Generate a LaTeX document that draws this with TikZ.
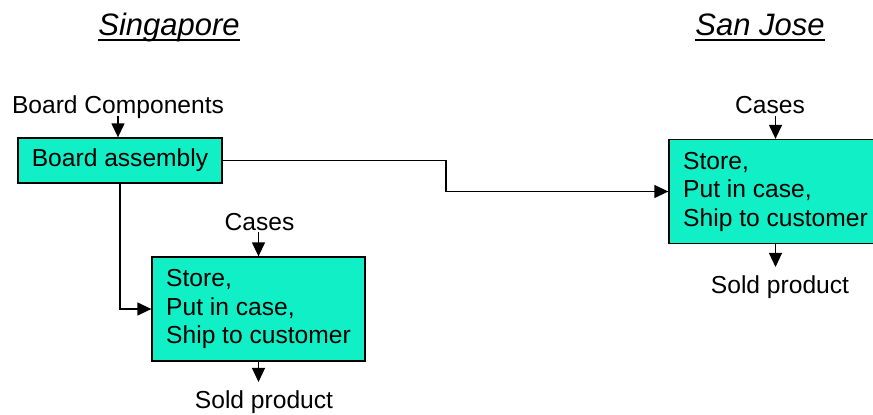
\documentclass[tikz,border=0pt]{standalone}
\usepackage{fontspec}
\setmainfont{Liberation Sans}
\definecolor{storegreen}{RGB}{17,239,199}
\usetikzlibrary{arrows.meta,calc}

\tikzset{
  lbl/.style={inner sep=0pt, font=\fontsize{24.6}{28.5}\selectfont},
  place/.style={inner sep=0pt, font=\fontsize{31}{36}\selectfont\itshape},
  stepbox/.style={draw, line width=1.3pt, fill=storegreen, font=\fontsize{24.6}{28.5}\selectfont},
  storebox/.style={stepbox, align=left, minimum width=213pt, minimum height=104pt},
  arr/.style={line width=1.3pt, -{Triangle[length=14pt,width=13pt]}}
}

\begin{document}
\begin{tikzpicture}[x=1pt, y=-1pt]
    \useasboundingbox (0,0) rectangle (873,415);
    \clip (0,0) rectangle (873,415);
    % site headings
    \node[place, anchor=base] (sg) at (169,35) {Singapore};
    \draw[line width=2pt] ([yshift=-5pt]sg.base west) -- ([yshift=-5pt]sg.base east);
    \node[place, anchor=base] (sj) at (760,35) {San Jose};
    \draw[line width=2pt] ([yshift=-5pt]sj.base west) -- ([yshift=-5pt]sj.base east);
    % Singapore
    \node[lbl, anchor=base] (boardin) at (118,113) {Board Components};
    \node[stepbox, minimum width=204pt, minimum height=45pt] (board) at (120,160.5) {Board assembly};
    \node[lbl, anchor=base] (sgcases) at (259.5,230) {Cases};
    \node[storebox] (sgstore) at (258.5,309) {Store,\\Put in case,\\Ship to customer};
    \node[lbl, anchor=base] (sgsold) at (264,408) {Sold product};
    % San Jose
    \node[lbl, anchor=base] (sjcases) at (770,113) {Cases};
    \node[storebox] (sjstore) at (775.5,191.5) {Store,\\Put in case,\\Ship to customer};
    \node[lbl, anchor=base] (sjsold) at (780,293) {Sold product};
    \coordinate (jog) at (446,176);

    \draw[arr] ([yshift=-3pt]boardin.base) -- (boardin.base |- board.north);
    \draw[arr] (board.south) |- (sgstore.west);
    \draw[arr] (board.east) -| (jog) |- (sjstore.west);
    \draw[arr] ($(sgstore.north |- sgcases.base)+(0,2)$) -- (sgstore.north);
    \draw[arr] (sgstore.south) -- ($(sgstore.south |- sgsold.north)+(0,-8)$);
    \draw[arr] ($(sjstore.north |- sjcases.base)+(0,3)$) -- (sjstore.north);
    \draw[arr] (sjstore.south) -- ($(sjstore.south |- sjsold.north)+(0,-8)$);
\end{tikzpicture}
\end{document}
